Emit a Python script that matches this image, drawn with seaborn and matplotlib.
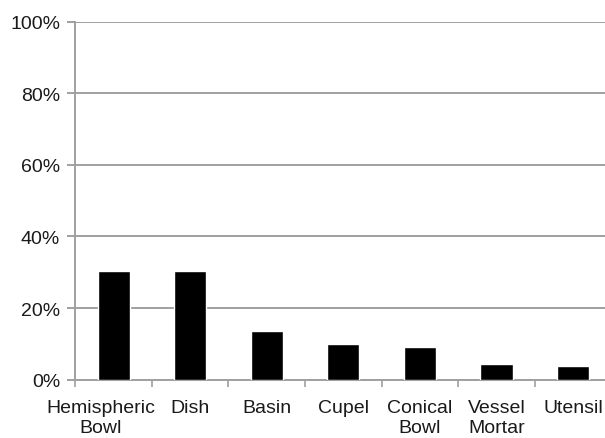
import matplotlib.pyplot as plt
import matplotlib.transforms as mtransforms
import pandas as pd
import seaborn as sns
from matplotlib.ticker import FixedLocator, PercentFormatter

categories = ["Hemispheric\nBowl", "Dish", "Basin", "Cupel", "Conical\nBowl", "Vessel\nMortar", "Utensil"]
shares = [30.4, 30.4, 13.6, 10.1, 9.0, 4.4, 3.7]

df = pd.DataFrame({"type": categories, "share": shares})

sns.set_style("white")
plt.rcParams["font.family"] = ["Liberation Sans", "DejaVu Sans"]

fig = plt.figure(figsize=(6.05, 4.39), dpi=100)
ax = fig.add_axes([0.1245, 0.1328, 0.886, 0.8155])

sns.barplot(data=df, x="type", y="share", color="black", width=0.42,
            saturation=1, ax=ax, zorder=3)

grey = "#a0a0a0"
ax.set_ylim(0, 100)
ax.set_xlim(-0.5, len(categories) - 0.5)
ax.yaxis.set_major_locator(FixedLocator([0, 20, 40, 60, 80, 100]))
ax.yaxis.set_major_formatter(PercentFormatter(decimals=0))
ax.grid(axis="y", color=grey, linewidth=1.4, zorder=0)
ax.set_axisbelow(True)

# boundary ticks between categories
ax.set_xticks([i - 0.5 for i in range(len(categories))], minor=True)
ax.tick_params(axis="x", which="minor", length=5, width=1.2, color=grey, direction="out")
ax.tick_params(axis="x", which="major", length=0, pad=14, labelsize=14, labelcolor="#1a1a1a")
ax.tick_params(axis="y", length=6, width=1.4, color=grey, direction="out", pad=5,
               labelsize=14, labelcolor="#1a1a1a")
ax.tick_params(bottom=True, left=True, which="both")
for lab in ax.get_xticklabels():
    lab.set_linespacing(1.22)

# the first, long label sits a little left of its slot
first = ax.get_xticklabels()[0]
first.set_transform(first.get_transform() +
                    mtransforms.ScaledTranslation(-0.13, 0, fig.dpi_scale_trans))

for side in ["top", "right"]:
    ax.spines[side].set_visible(False)
for side in ["left", "bottom"]:
    ax.spines[side].set_color(grey)
    ax.spines[side].set_linewidth(1.4)

ax.set_xlabel("")
ax.set_ylabel("")

fig.savefig("out.png", dpi=100)
